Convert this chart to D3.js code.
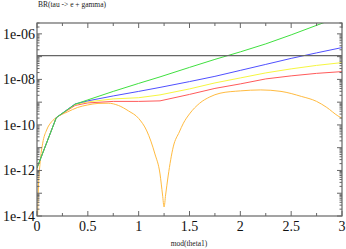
<!DOCTYPE html>
<html><head><meta charset="utf-8">
<script src="https://cdn.jsdelivr.net/npm/d3@7"></script>
<style>html,body{margin:0;padding:0;background:#fff;}svg{display:block;}</style>
</head><body><svg id="c" width="346" height="249"></svg>
<script>
const theta = [0, 0.19, 0.375, 0.5, 0.75, 1.0, 1.21, 1.5, 1.75, 2.0, 2.25, 2.5, 2.75, 3.0];
const brGreen  = [1.29e-12, 2.10e-10, 8.13e-10, 1.26e-9, 2.97e-9, 6.67e-9, 1.29e-8, 3.37e-8, 7.57e-8, 1.62e-7, 3.63e-7, 9.03e-7, 2.37e-6, 6.18e-6];
const brBlue   = [1.29e-12, 2.10e-10, 8.37e-10, 1.14e-9, 1.88e-9, 2.97e-9, 4.45e-9, 8.00e-9, 1.36e-8, 2.49e-8, 4.56e-8, 8.37e-8, 1.46e-7, 2.50e-7];
const brYellow = [1.29e-12, 2.10e-10, 7.96e-10, 1.03e-9, 1.39e-9, 1.57e-9, 2.09e-9, 3.82e-9, 7.01e-9, 1.16e-8, 1.93e-8, 2.90e-8, 4.12e-8, 5.47e-8];
const brRed    = [1.29e-12, 2.10e-10, 7.19e-10, 9.27e-10, 1.08e-9, 1.08e-9, 1.14e-9, 2.19e-9, 4.02e-9, 6.34e-9, 1.05e-8, 1.43e-8, 1.84e-8, 2.20e-8];
const thetaOrange = [0.003, 0.013, 0.03, 0.056, 0.095, 0.145, 0.19, 0.3, 0.4, 0.5, 0.6, 0.7, 0.8, 0.9, 1.0, 1.08, 1.16, 1.21, 1.235, 1.25, 1.265, 1.29, 1.34, 1.4, 1.44, 1.5, 1.6, 1.7, 1.8, 2.0, 2.2, 2.4, 2.6, 2.75, 2.85, 2.96, 3.0];
const brOrange = [2.4e-15, 1.39e-13, 2.07e-12, 1.57e-11, 6.03e-11, 1.40e-10, 2.10e-10, 3.72e-10, 5.87e-10, 7.57e-10, 8.81e-10, 9.00e-10, 7.19e-10, 4.12e-10, 1.93e-10, 5.44e-11, 5.31e-12, 7.02e-13, 8.38e-14, 2.49e-14, 8.38e-14, 5.73e-13, 1.08e-11, 4.92e-11, 1.19e-10, 3.05e-10, 9.00e-10, 1.70e-9, 2.47e-9, 3.13e-9, 3.45e-9, 2.97e-9, 1.79e-9, 1.08e-9, 5.87e-10, 2.49e-10, 1.97e-10];
const expLimit = 1.1e-7;
const xTickLabels = ["0", "0.5", "1", "1.5", "2", "2.5", "3"];
const yTickLabels = ["1e-14", "1e-12", "1e-10", "1e-08", "1e-06"];
const titleText = "BR(tau -> e + gamma)";
const xLabelText = "mod(theta1)";

const L = 37, R = 342, T = 23, B = 216;
const svg = d3.select("#c");
const x = d3.scaleLinear().domain([0, 3]).range([L, R]);
const y = d3.scaleLog().domain([1e-14, 3e-6]).range([B, T]);

svg.append("defs").append("clipPath").attr("id", "clip")
  .append("rect").attr("x", L).attr("y", T).attr("width", R - L).attr("height", B - T);

const g = svg.append("g").attr("clip-path", "url(#clip)");
const series = [
  {t: thetaOrange, v: brOrange, c: "#ffbb40", curve: d3.curveMonotoneX},
  {t: theta, v: brRed, c: "#ff5a5a"},
  {t: theta, v: brYellow, c: "#f6f640"},
  {t: theta, v: brBlue, c: "#5050ff"},
  {t: theta, v: brGreen, c: "#40e040"}
];
series.forEach(s => {
  const ln = d3.line().x(d => x(d[0])).y(d => y(d[1])).curve(s.curve || d3.curveLinear);
  g.append("path").datum(s.t.map((t, i) => [t, s.v[i]]))
    .attr("fill", "none").attr("stroke", s.c).attr("stroke-width", 1).attr("d", ln);
});
g.append("line").attr("x1", L).attr("x2", R).attr("y1", y(expLimit)).attr("y2", y(expLimit))
  .attr("stroke", "#666").attr("stroke-width", 1.2);

// frame
const axc = "#666";
svg.append("rect").attr("x", L).attr("y", T).attr("width", R - L).attr("height", B - T)
  .attr("fill", "none").attr("stroke", axc).attr("stroke-width", 1.2);

// x ticks
const xt = d3.range(0, 3.001, 0.25);
xt.forEach(v => {
  const major = Math.abs(v * 2 - Math.round(v * 2)) < 1e-6;
  const len = major ? 5 : 3;
  svg.append("line").attr("x1", x(v)).attr("x2", x(v)).attr("y1", B).attr("y2", B - len).attr("stroke", axc);
  svg.append("line").attr("x1", x(v)).attr("x2", x(v)).attr("y1", T).attr("y2", T + len).attr("stroke", axc);
});
// y ticks (log)
for (let e = -14; e <= -6; e++) {
  for (let m = 1; m <= 9; m++) {
    const v = m * Math.pow(10, e);
    if (v > 3e-6) continue;
    const len = m === 1 ? 5 : 2.5;
    svg.append("line").attr("x1", L).attr("x2", L + len).attr("y1", y(v)).attr("y2", y(v)).attr("stroke", axc);
    svg.append("line").attr("x1", R).attr("x2", R - len).attr("y1", y(v)).attr("y2", y(v)).attr("stroke", axc);
  }
}
const font = "Liberation Serif, DejaVu Serif, serif";
svg.selectAll(".xl").data(xTickLabels).enter().append("text")
  .attr("x", d => x(+d)).attr("y", 231).attr("text-anchor", "middle")
  .attr("font-family", font).attr("font-size", 14).attr("fill", "#111").text(d => d);
svg.selectAll(".yl").data(yTickLabels).enter().append("text")
  .attr("x", 35).attr("y", d => y(+d) + 5).attr("text-anchor", "end")
  .attr("font-family", font).attr("font-size", 14).attr("fill", "#111").text(d => d);
svg.append("text").attr("x", 38).attr("y", 7).attr("font-family", font).attr("font-size", 7.5)
  .attr("fill", "#222").text(titleText);
svg.append("text").attr("x", 189).attr("y", 246).attr("text-anchor", "middle").attr("font-family", font)
  .attr("font-size", 7.5).attr("fill", "#222").text(xLabelText);
</script></body></html>
